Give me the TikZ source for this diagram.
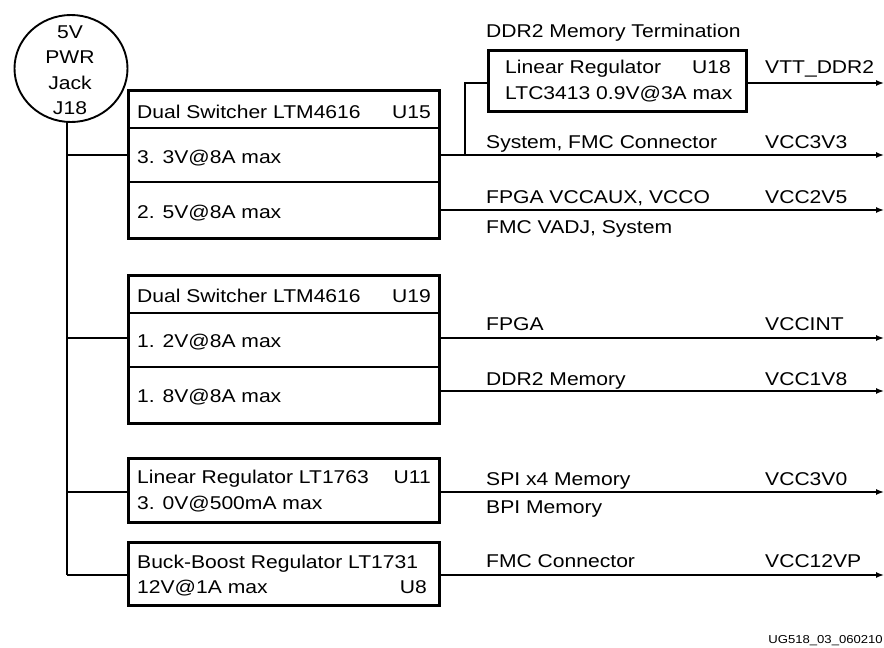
\documentclass[tikz,border=0pt]{standalone}
\usepackage{fontspec}
\setmainfont{Liberation Sans}[FakeStretch=1.14]
\usetikzlibrary{arrows.meta,shapes.geometric}
\tikzset{
  txt/.style={inner sep=0pt, anchor=base west, font=\fontsize{18.5}{22}\selectfont},
  txte/.style={txt, anchor=base east},
  box/.style={draw, line width=2.5pt, inner sep=0pt, anchor=north west},
  wire/.style={line width=1.4pt},
  outwire/.style={wire, -{Latex[length=8pt,width=6pt]}},
  div/.style={line width=2.2pt}
}
\begin{document}
\begin{tikzpicture}[x=1pt,y=-1pt]
\useasboundingbox (0,0) rectangle (884,648);
% power jack
\node[draw, ellipse, line width=1.9pt, minimum width=113pt, minimum height=107pt, inner sep=0pt] (jack) at (71,68.5) {};
\node[inner sep=0pt, align=center, font=\fontsize{18.5}{25.5}\selectfont] (jacktxt) at (70,70) {5V\\PWR\\Jack\\J18};
% boxes
\node[box, minimum width=311pt, minimum height=148pt] (u15) at (127,89) {};
\node[box, minimum width=311pt, minimum height=148pt] (u19) at (127,274) {};
\node[box, minimum width=311pt, minimum height=64pt] (u11) at (127,457) {};
\node[box, minimum width=311pt, minimum height=63pt] (u8) at (127,541) {};
\node[box, minimum width=258pt, minimum height=61pt] (u18) at (487,49) {};
% dividers
\draw[div] (127,128) -- (438,128);
\draw[div] (127,182) -- (438,182);
\draw[div] (127,313) -- (438,313);
\draw[div] (127,367) -- (438,367);
% box texts
\node[txt] (t1) at (137,118) {Dual Switcher LTM4616};
\node[txte] (t2) at (431,118) {U15};
\node[txt] (t3) at (137,163) {3. 3V@8A max};
\node[txt] (t4) at (137,218) {2. 5V@8A max};
\node[txt] (t5) at (137,302) {Dual Switcher LTM4616};
\node[txte] (t6) at (431,302) {U19};
\node[txt] (t7) at (137,347) {1. 2V@8A max};
\node[txt] (t8) at (137,402) {1. 8V@8A max};
\node[txt] (t9) at (137,483) {Linear Regulator LT1763};
\node[txte] (t10) at (431,483) {U11};
\node[txt] (t11) at (137,509) {3. 0V@500mA max};
\node[txt] (t12) at (137,568) {Buck-Boost Regulator LT1731};
\node[txt] (t13) at (137,593) {12V@1A max};
\node[txte] (t14) at (427,593) {U8};
\node[txt] (t15) at (505,73) {Linear Regulator};
\node[txte] (t16) at (731,73) {U18};
\node[txt] (t17) at (505,99) {LTC3413 0.9V@3A max};
% right labels
\node[txt] (r1) at (486,37) {DDR2 Memory Termination};
\node[txt] (r2) at (765,73) {VTT\_DDR2};
\node[txt] (r3) at (486,148) {System, FMC Connector};
\node[txt] (r4) at (765,148) {VCC3V3};
\node[txt] (r5) at (486,203) {FPGA VCCAUX, VCCO};
\node[txt] (r6) at (765,203) {VCC2V5};
\node[txt] (r7) at (486,233) {FMC VADJ, System};
\node[txt] (r8) at (486,330) {FPGA};
\node[txt] (r9) at (765,330) {VCCINT};
\node[txt] (r10) at (486,385) {DDR2 Memory};
\node[txt] (r11) at (765,385) {VCC1V8};
\node[txt] (r12) at (486,485) {SPI x4 Memory};
\node[txt] (r13) at (765,485) {VCC3V0};
\node[txt] (r14) at (486,513) {BPI Memory};
\node[txt] (r15) at (486,567) {FMC Connector};
\node[txt] (r16) at (765,567) {VCC12VP};
\node[inner sep=0pt, anchor=base east, font=\fontsize{11.5}{13}\selectfont] (fig) at (883,643) {UG518\_03\_060210};
% coordinates
\coordinate (ta) at (67,121.5);
\coordinate (tb) at (67,155);
\coordinate (tc) at (67,338);
\coordinate (td) at (67,492);
\coordinate (te) at (67,575);
\coordinate (o1) at (884,155);
\coordinate (o2) at (884,210);
\coordinate (o3) at (884,338);
\coordinate (o4) at (884,391);
\coordinate (o5) at (884,492);
\coordinate (o6) at (884,575);
\coordinate (o0) at (884,83);
\coordinate (sp) at (465,155);
% wiring
\draw[wire] (ta) -- (te);
\draw[wire] (tb) -- (tb -| u15.west);
\draw[wire] (tc) -- (tc -| u19.west);
\draw[wire] (td) -- (td -| u11.west);
\draw[wire] (te) -- (te -| u8.west);
\draw[outwire] (o1 -| u15.east) -- (o1);
\draw[outwire] (o2 -| u15.east) -- (o2);
\draw[outwire] (o3 -| u19.east) -- (o3);
\draw[outwire] (o4 -| u19.east) -- (o4);
\draw[outwire] (o5 -| u11.east) -- (o5);
\draw[outwire] (o6 -| u8.east) -- (o6);
\draw[wire] (sp) |- (o0 -| u18.west);
\draw[outwire] (o0 -| u18.east) -- (o0);
\end{tikzpicture}
\end{document}
